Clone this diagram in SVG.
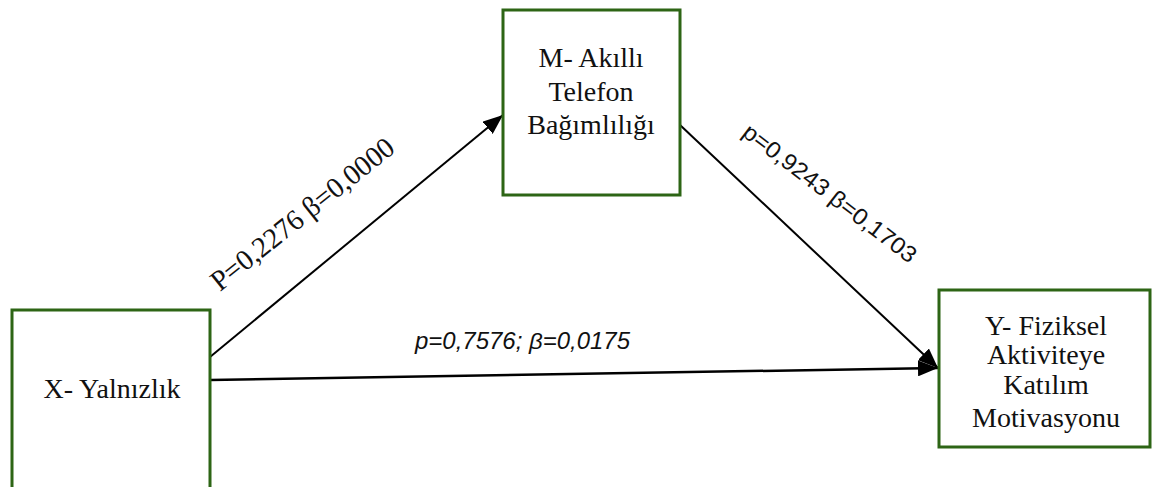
<svg xmlns="http://www.w3.org/2000/svg" width="1154" height="487" viewBox="0 0 1154 487">
<style>
.box{fill:#fff;stroke:#2d6515;stroke-width:3}
.nt{font-family:"Liberation Serif",serif;font-size:28px;fill:#111;text-anchor:middle}
.ln{stroke:#000;fill:none}
.lb{fill:#111}
</style>
<defs>
<marker id="ah" markerUnits="userSpaceOnUse" markerWidth="22" markerHeight="16" refX="20" refY="8" orient="auto">
<path d="M0,0 L20,8 L0,16 Z" fill="#000"/>
</marker>
</defs>
<rect width="1154" height="487" fill="#fff"/>
<g id="connectors">
<line class="ln" x1="210" y1="357" x2="503" y2="115" stroke-width="2" marker-end="url(#ah)"/>
<line class="ln" x1="680" y1="125" x2="938" y2="368" stroke-width="2" marker-end="url(#ah)"/>
<line class="ln" x1="210" y1="380" x2="938" y2="368" stroke-width="2.5" marker-end="url(#ah)"/>
<text class="lb" transform="translate(220,292) rotate(-38.6)" font-family="Liberation Serif,serif" font-size="29" textLength="226" lengthAdjust="spacingAndGlyphs">P=0,2276 β=0,0000</text>
<text class="lb" transform="translate(741,135) rotate(37.5)" font-family="Liberation Sans,sans-serif" font-size="23" textLength="212" lengthAdjust="spacingAndGlyphs">p=0,9243 β=0,1703</text>
<text class="lb" x="415" y="349" font-family="Liberation Sans,sans-serif" font-style="italic" font-size="23" textLength="215" lengthAdjust="spacingAndGlyphs">p=0,7576; β=0,0175</text>
</g>
<g id="node-x">
<rect class="box" x="12" y="310" width="198" height="190"/>
<text class="nt" x="112" y="398">X- Yalnızlık</text>
</g>
<g id="node-m">
<rect class="box" x="503" y="10" width="177" height="185"/>
<text class="nt" x="591" y="67">M- Akıllı</text>
<text class="nt" x="591" y="101">Telefon</text>
<text class="nt" x="591" y="134">Bağımlılığı</text>
</g>
<g id="node-y">
<rect class="box" x="939" y="290" width="211" height="157"/>
<text class="nt" x="1046" y="335">Y- Fiziksel</text>
<text class="nt" x="1046" y="364">Aktiviteye</text>
<text class="nt" x="1046" y="394">Katılım</text>
<text class="nt" x="1046" y="427">Motivasyonu</text>
</g>
</svg>
